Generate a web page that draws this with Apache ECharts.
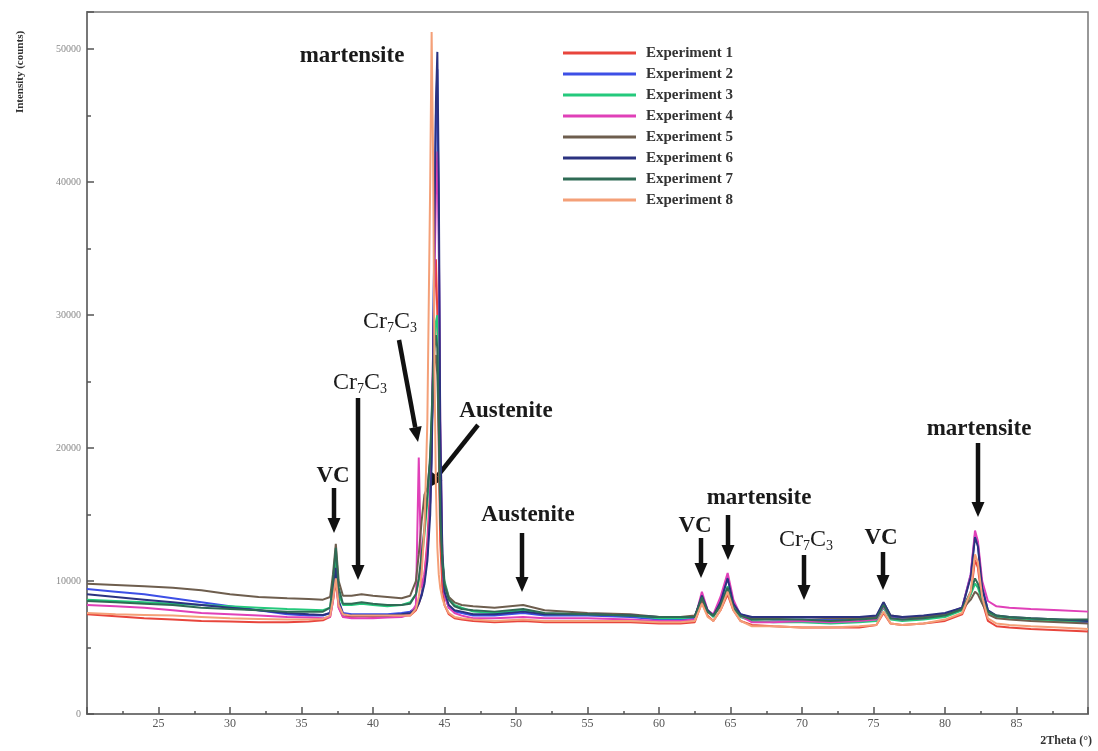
<!DOCTYPE html>
<html><head><meta charset="utf-8">
<script src="https://cdn.jsdelivr.net/npm/echarts@6/dist/echarts.min.js"></script>
<style>html,body{margin:0;padding:0;background:#fff}#c{width:1098px;height:751px}</style>
</head><body><div id="c"></div>
<script>
// 2Theta sample positions (degrees)
const X = [
 20, 22, 24, 26, 28, 30, 32, 34, 35.5, 36.5,
 37.0, 37.2, 37.4, 37.6, 37.9, 38.5, 39.2, 40, 41, 42,
 42.6, 43.0, 43.2, 43.4, 43.6, 43.8, 44.0, 44.1, 44.2, 44.3,
 44.4, 44.5, 44.6, 44.7, 44.85, 45.0, 45.3, 45.7, 46.2, 47,
 48.5, 50.5, 52, 55, 58, 60, 61.5, 62.5, 63.0, 63.4,
 63.8, 64.3, 64.8, 65.2, 65.7, 66.5, 68, 70, 72, 74,
 75.2, 75.7, 76.2, 77, 78.5, 80, 81.2, 81.8, 82.1, 82.3,
 82.6, 83.0, 83.6, 84.5, 86, 88, 90
];
const exp1 = [
 7500, 7350, 7200, 7100, 7000, 6950, 6900, 6900, 6950, 7050,
 7300, 8500, 10000, 8000, 7300, 7300, 7350, 7300, 7300, 7400,
 7400, 7800, 8300, 9000, 10500, 13000, 17000, 21000, 27000, 32000,
 34200, 30000, 20000, 13000, 9500, 8200, 7500, 7200, 7100, 7000,
 6900, 7000, 6900, 6900, 6900, 6800, 6800, 6900, 8400, 7400,
 7000, 7800, 9000, 7800, 7000, 6700, 6600, 6500, 6500, 6500,
 6700, 7600, 6800, 6700, 6800, 7000, 7500, 9000, 11600, 11000,
 8500, 7000, 6600, 6500, 6400, 6300, 6200
];
const exp2 = [
 9400, 9200, 9000, 8700, 8400, 8100, 7800, 7500, 7400, 7400,
 7600, 9000, 10800, 8500, 7600, 7500, 7500, 7500, 7500, 7600,
 7700, 8000, 8400, 9000, 10000, 12000, 16000, 20000, 27000, 37000,
 45000, 48500, 36000, 20000, 11500, 9000, 8000, 7700, 7600, 7400,
 7400, 7600, 7400, 7400, 7300, 7100, 7100, 7200, 8900, 7800,
 7400, 8500, 10300, 8400, 7500, 7200, 7100, 7100, 7100, 7200,
 7300, 8200, 7300, 7200, 7300, 7500, 8000, 10500, 13500, 12800,
 9500, 7800, 7300, 7200, 7100, 7000, 6900
];
const exp3 = [
 8600, 8500, 8400, 8300, 8200, 8100, 8000, 7900, 7850, 7800,
 8000, 9500, 11500, 9000, 8200, 8200, 8300, 8200, 8100, 8200,
 8400, 9000, 10000, 11500, 13500, 16000, 19000, 22000, 25000, 28000,
 29500, 30000, 25000, 17000, 12000, 10000, 8800, 8200, 8000, 7700,
 7600, 7800, 7500, 7500, 7400, 7200, 7200, 7300, 8700, 7700,
 7300, 8200, 9600, 8000, 7300, 7000, 6900, 6900, 6800, 6900,
 7000, 8000, 7100, 7000, 7100, 7300, 7800, 9000, 9800, 9500,
 8500, 7600, 7300, 7200, 7100, 7000, 7000
];
const exp4 = [
 8200, 8100, 8000, 7800, 7600, 7500, 7400, 7300, 7250, 7200,
 7300, 8500, 10500, 8000, 7300, 7200, 7200, 7200, 7250, 7300,
 7500, 8200, 19300, 9500, 10500, 12500, 16000, 20000, 26000, 33000,
 39000, 42300, 36000, 22000, 12000, 9000, 8000, 7600, 7400, 7200,
 7200, 7300, 7200, 7200, 7100, 7000, 7000, 7100, 9200, 7800,
 7500, 8800, 10600, 8600, 7400, 6900, 6900, 7000, 6900, 7000,
 7100, 8100, 7200, 7100, 7200, 7500, 8000, 10500, 13800, 13000,
 10000, 8500, 8100, 8000, 7900, 7800, 7700
];
const exp5 = [
 9800, 9700, 9600, 9500, 9300, 9000, 8800, 8700, 8650, 8600,
 8800, 10500, 12800, 10000, 8900, 8900, 9000, 8900, 8800, 8700,
 8900, 10000, 12000, 14500, 16500, 17000, 19000, 21500, 24000, 26500,
 27000, 25500, 21000, 15000, 11500, 9800, 8800, 8400, 8200, 8100,
 8000, 8200, 7800, 7600, 7500, 7300, 7300, 7400, 8600, 7700,
 7400, 8100, 9200, 8000, 7400, 7200, 7200, 7300, 7200, 7200,
 7300, 8400, 7400, 7300, 7300, 7500, 7900, 8600, 9200, 9000,
 8300, 7500, 7200, 7100, 7000, 6900, 6800
];
const exp6 = [
 9000, 8800, 8600, 8400, 8200, 8000, 7800, 7600, 7500, 7450,
 7600, 9000, 11000, 8500, 7500, 7400, 7400, 7400, 7400, 7500,
 7600, 7900, 8300, 8900, 9800, 11500, 15000, 19000, 26000, 37000,
 46000, 49800, 40000, 22000, 12000, 9200, 8200, 7800, 7700, 7500,
 7500, 7700, 7500, 7500, 7400, 7300, 7300, 7300, 8900, 7800,
 7400, 8400, 10200, 8300, 7500, 7300, 7300, 7300, 7300, 7300,
 7400, 8400, 7400, 7300, 7400, 7600, 8000, 10300, 13300, 12600,
 9500, 7800, 7400, 7300, 7200, 7100, 7000
];
const exp7 = [
 8500, 8400, 8300, 8200, 8000, 7900, 7800, 7700, 7700, 7700,
 8000, 10000, 12500, 9500, 8300, 8300, 8400, 8300, 8200, 8200,
 8300, 9000, 10200, 12000, 14000, 16500, 19500, 22500, 25500, 27500,
 28500, 27500, 22000, 15000, 11500, 9700, 8600, 8100, 7900, 7800,
 7700, 7900, 7600, 7500, 7400, 7300, 7300, 7300, 8800, 7700,
 7400, 8200, 9500, 8000, 7400, 7100, 7100, 7100, 7000, 7100,
 7200, 8200, 7200, 7100, 7200, 7400, 7900, 9200, 10200, 9800,
 8700, 7700, 7400, 7300, 7200, 7100, 7100
];
const exp8 = [
 7600, 7500, 7450, 7400, 7300, 7200, 7150, 7100, 7100, 7150,
 7400, 8600, 10200, 8200, 7500, 7400, 7400, 7400, 7400, 7400,
 7400, 7900, 8800, 10500, 14000, 22000, 40000, 51300, 42000, 26000,
 17000, 12500, 10500, 9500, 8700, 8200, 7600, 7300, 7200, 7100,
 7000, 7100, 7000, 7000, 7000, 6900, 6900, 7000, 8300, 7300,
 7000, 7800, 9200, 7800, 7000, 6600, 6600, 6500, 6500, 6600,
 6700, 7700, 6800, 6700, 6800, 7100, 7600, 9200, 12000, 11400,
 8800, 7200, 6800, 6700, 6600, 6500, 6400
];
const seriesNames = ['Experiment 1','Experiment 2','Experiment 3','Experiment 4','Experiment 5','Experiment 6','Experiment 7','Experiment 8'];
const seriesValues = [exp1, exp2, exp3, exp4, exp5, exp6, exp7, exp8];
const colors = ['#e8453c','#3d4fe6','#25c97c','#e040b8','#6e5e4e','#2b3280','#2f6b55','#f4a078'];

const SERIF = '"Liberation Serif", "DejaVu Serif", serif';

function arrow(x1, y1, x2, y2) {
  const dx = x2 - x1, dy = y2 - y1, L = Math.hypot(dx, dy);
  const ux = dx / L, uy = dy / L, hl = 15, hw = 6.5;
  const bx = x2 - ux * hl, by = y2 - uy * hl, px = -uy, py = ux;
  return [
    {type: 'line', shape: {x1: x1, y1: y1, x2: bx, y2: by}, style: {stroke: '#111', lineWidth: 4.5}},
    {type: 'polygon', shape: {points: [[x2, y2], [bx + px * hw, by + py * hw], [bx - px * hw, by - py * hw]]}, style: {fill: '#111'}}
  ];
}
const notes = [
  {t: 'martensite', x: 352, y: 56, k: 'b'},
  {t: 'VC', x: 333, y: 476, k: 'b', a: [334, 488, 334, 533]},
  {t: 'Cr7C3', x: 360, y: 383, k: 'c', a: [358, 398, 358, 580]},
  {t: 'Cr7C3', x: 390, y: 322, k: 'c', a: [399, 340, 418, 442]},
  {t: 'Austenite', x: 506, y: 411, k: 'b', a: [478, 425, 428, 488]},
  {t: 'Austenite', x: 528, y: 515, k: 'b', a: [522, 533, 522, 592]},
  {t: 'VC', x: 695, y: 526, k: 'b', a: [701, 538, 701, 578]},
  {t: 'martensite', x: 759, y: 498, k: 'b', a: [728, 515, 728, 560]},
  {t: 'Cr7C3', x: 806, y: 540, k: 'c', a: [804, 555, 804, 600]},
  {t: 'VC', x: 881, y: 538, k: 'b', a: [883, 552, 883, 590]},
  {t: 'martensite', x: 979, y: 429, k: 'b', a: [978, 443, 978, 517]}
];
const graphics = [];
notes.forEach(n => {
  if (n.k === 'b') {
    graphics.push({type: 'text', x: n.x, y: n.y, style: {text: n.t, fill: '#1a1a1a', font: 'bold 23px ' + SERIF, align: 'center', verticalAlign: 'middle'}});
  } else {
    graphics.push({type: 'text', x: n.x, y: n.y, style: {
      text: '{a|Cr}{s|7}{a|C}{s|3}', align: 'center', verticalAlign: 'middle', fill: '#1a1a1a',
      rich: {
        a: {fontSize: 24, fontFamily: SERIF, fill: '#1a1a1a', lineHeight: 26, verticalAlign: 'middle'},
        s: {fontSize: 14, fontFamily: SERIF, fill: '#1a1a1a', lineHeight: 26, verticalAlign: 'bottom'}
      }}});
  }
  if (n.a) arrow(n.a[0], n.a[1], n.a[2], n.a[3]).forEach(g => graphics.push(g));
});
graphics.push({type: 'text', x: 20, y: 72, rotation: Math.PI / 2, style: {text: 'Intensity (counts)', fill: '#333', font: 'bold 11px ' + SERIF, align: 'center', verticalAlign: 'middle'}});
graphics.push({type: 'text', x: 1092, y: 741, style: {text: '2Theta (°)', fill: '#333', font: 'bold 12px ' + SERIF, align: 'right', verticalAlign: 'middle'}});

const chart = echarts.init(document.getElementById('c'), null, {renderer: 'canvas'});
chart.setOption({
  animation: false,
  backgroundColor: '#fff',
  grid: {left: 87, right: 10, top: 12, bottom: 37, show: true, borderColor: '#777', borderWidth: 1.5, backgroundColor: 'transparent'},
  legend: {
    orient: 'vertical', left: 558, top: 40, icon: 'rect', itemWidth: 73, itemHeight: 3, itemGap: 5,
    textStyle: {fontFamily: SERIF, fontWeight: 'bold', fontSize: 15, color: '#333', lineHeight: 16, padding: [0, 0, 0, 5]},
    data: seriesNames
  },
  xAxis: {
    type: 'value', min: 20, max: 90, interval: 5,
    axisLine: {lineStyle: {color: '#777', width: 2}},
    axisTick: {inside: true, length: 7, lineStyle: {color: '#555', width: 1.5}},
    minorTick: {show: true, splitNumber: 2, length: 3, lineStyle: {color: '#555', width: 1.5}},
    splitLine: {show: false},
    axisLabel: {showMinLabel: false, showMaxLabel: false, margin: 4, fontFamily: SERIF, fontSize: 12, color: '#555'}
  },
  yAxis: {
    type: 'value', min: 0, max: 52800, interval: 10000,
    axisLine: {show: true, lineStyle: {color: '#777', width: 2}},
    axisTick: {show: true, inside: true, length: 7, lineStyle: {color: '#555', width: 1.5}},
    minorTick: {show: true, splitNumber: 2, length: 4, lineStyle: {color: '#555', width: 1.5}},
    splitLine: {show: false},
    axisLabel: {showMaxLabel: false, margin: 6, fontFamily: SERIF, fontSize: 10, color: '#888', formatter: v => String(v)}
  },
  graphic: graphics,
  series: seriesNames.map((name, i) => ({
    name: name, type: 'line', showSymbol: false, symbol: 'none',
    lineStyle: {color: colors[i], width: 2}, itemStyle: {color: colors[i]},
    data: X.map((x, j) => [x, seriesValues[i][j]])
  }))
});
</script>
</body></html>
